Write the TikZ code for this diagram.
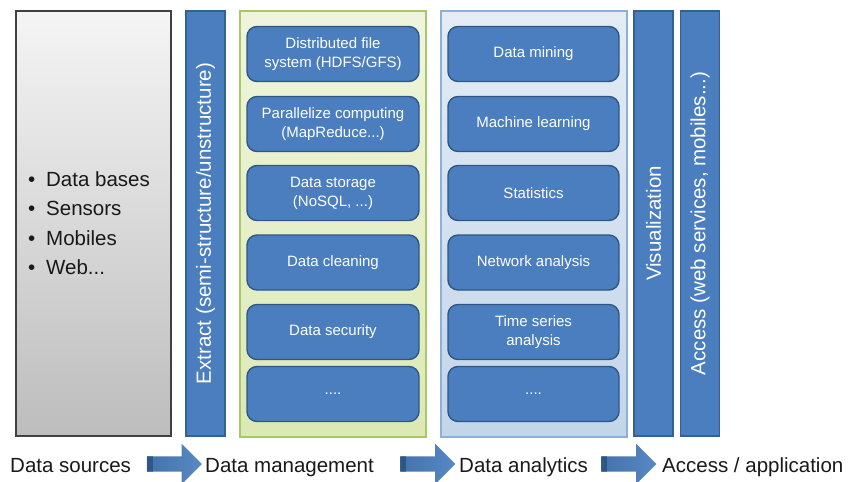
\documentclass[tikz,border=0pt]{standalone}
\usepackage{fontspec}
\setmainfont{Liberation Sans}
\usepackage{tikz}
\usetikzlibrary{shapes.arrows}

\definecolor{barblue}{HTML}{4A7EBE}
\definecolor{barline}{HTML}{34618F}
\definecolor{boxline}{HTML}{2F5784}
\definecolor{greenfill}{HTML}{DCE9B4}
\definecolor{greenline}{HTML}{A9C76B}
\definecolor{bluefill}{HTML}{C3D5EA}
\definecolor{blueline}{HTML}{8EAFD6}

\begin{document}
\begin{tikzpicture}[x=1pt, y=-1pt,
    bar/.style={draw=barline, line width=1.2pt, fill=barblue, rotate=90,
        minimum width=425pt, minimum height=39pt, text=white,
        font=\fontsize{20.5}{24}\selectfont},
    item/.style={draw=boxline, line width=1.4pt, fill=barblue, rounded corners=10pt,
        minimum width=172pt, minimum height=55pt, text=white, align=center,
        font=\fontsize{15}{19}\selectfont},
    stage/.style={anchor=base west, inner sep=0pt, text=black!90,
        font=\fontsize{20.5}{24}\selectfont},
    flow/.style={single arrow, single arrow head extend=12.5pt, inner sep=0pt,
        minimum height=55pt, minimum width=40pt, draw=none,
        left color=barblue!90!black, right color=barblue!92!white,
        path picture={\fill[boxline] (path picture bounding box.south west)
            rectangle ([xshift=6pt]path picture bounding box.north west);}}]
    \useasboundingbox (0,0) rectangle (857,482);

    % columns
    \node[draw=black!75, line width=1.2pt, top color=black!4, bottom color=black!26,
        minimum width=155pt, minimum height=425pt] (src) at (93.5,223.5) {};
    \node[bar] (ext) at (205.5,223.5) {Extract (semi-structure/unstructure)};
    \node[draw=greenline, line width=1.2pt, top color=greenfill!45, bottom color=greenfill,
        minimum width=186pt, minimum height=426pt] (mgmt) at (333,224) {};
    \node[draw=blueline, line width=1.2pt, top color=bluefill!45, bottom color=bluefill,
        minimum width=186pt, minimum height=426pt] (ana) at (534,224) {};
    \node[bar] (vis) at (653.5,223.5) {Visualization};
    \node[bar] (acc) at (700,223.5) {Access (web services, mobiles...)};

    % data sources
    \node[stage] (s1) at (28,186) {\makebox[18pt][l]{\textbullet}Data bases};
    \node[stage] (s2) at (28,215.5) {\makebox[18pt][l]{\textbullet}Sensors};
    \node[stage] (s3) at (28,245) {\makebox[18pt][l]{\textbullet}Mobiles};
    \node[stage] (s4) at (28,274.5) {\makebox[18pt][l]{\textbullet}Web...};

    % management
    \node[item] (m1) at (333,54) {Distributed file\\system (HDFS/GFS)};
    \node[item] (m2) at (333,124) {Parallelize computing\\(MapReduce...)};
    \node[item] (m3) at (333,193) {Data storage\\(NoSQL, ...)};
    \node[item] (m4) at (333,262.5) {Data cleaning};
    \node[item] (m5) at (333,332) {Data security};
    \node[item] (m6) at (333,394) {....};

    % analytics
    \node[item, minimum width=171pt] (a1) at (533.5,54) {Data mining};
    \node[item, minimum width=171pt] (a2) at (533.5,124) {Machine learning};
    \node[item, minimum width=171pt] (a3) at (533.5,193) {Statistics};
    \node[item, minimum width=171pt] (a4) at (533.5,262.5) {Network analysis};
    \node[item, minimum width=171pt] (a5) at (533.5,332) {Time series\\analysis};
    \node[item, minimum width=171pt] (a6) at (533.5,394) {....};

    % stages
    \node[stage] (l1) at (10,472) {Data sources};
    \node[flow] (f1) at (170.5,464) {\rule{0pt}{15pt}};
    \node[stage] (l2) at (205,472) {Data management};
    \node[flow] (f2) at (424,464) {\rule{0pt}{15pt}};
    \node[stage] (l3) at (459,472) {Data analytics};
    \node[flow] (f3) at (625,464) {\rule{0pt}{15pt}};
    \node[stage] (l4) at (662,472) {Access / application};
\end{tikzpicture}
\end{document}
